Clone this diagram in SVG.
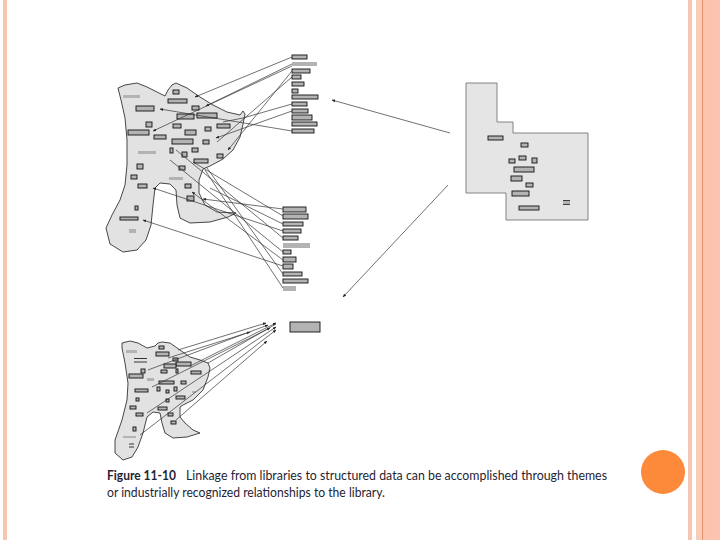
<svg xmlns="http://www.w3.org/2000/svg" width="720" height="540" viewBox="0 0 720 540">
<style>
.blob{fill:#e2e2e2;stroke:#333;stroke-width:0.9;stroke-linejoin:round}
.b{fill:#b3b3b3;stroke:#111;stroke-width:0.9}
.g{fill:#b3b3b3;stroke:none}
.ln{fill:none;stroke:#333;stroke-width:0.7}
.cap{font-family:Lato,"Liberation Sans",sans-serif;font-size:13px;fill:#1f2433}
</style>
<defs>
<marker id="ah" viewBox="0 0 10 10" refX="9" refY="5" markerWidth="5" markerHeight="5" orient="auto">
<path d="M0,1 L10,5 L0,9 z" fill="#222"/>
</marker>
</defs>
<rect width="720" height="540" fill="#ffffff"/>
<g id="frame">
<rect x="3" y="0" width="4" height="540" fill="#f7c6b3"/>
<rect x="688" y="0" width="4" height="540" fill="#f7c6b3"/>
<rect x="696" y="0" width="6" height="540" fill="#f9cdbb"/>
<rect x="702" y="0" width="1.2" height="540" fill="#e6916a"/>
<rect x="703" y="0" width="5" height="540" fill="#fbc5ae"/>
<rect x="708" y="0" width="12" height="540" fill="#fcc4b0"/>
<circle cx="663" cy="472" r="22" fill="#fd8a3b"/>
</g>
<g id="top-library">
<path class="blob" d="M118,88 L125,85 L137,83 L147,87 L157,92 L165,96 L168,90 L172,85 L176,83 L187,88 L200,97 L213,105 L227,112 L240,115 L243,111 L245,114 L243,124 L240,137 L233,150 L223,159 L210,166 L203,169 L199,180 L199,193 L205,205 L217,212 L236,213 L228,217 L210,222 L190,223 L180,218 L177,205 L176,190 L170,184 L160,183 L155,188 L153,205 L151,225 L146,240 L137,250 L123,252 L110,244 L106,228 L112,215 L120,200 L125,185 L127,165 L127,140 L125,118 L121,100 Z"/>
<rect class="g" x="123" y="95" width="17" height="3"/>
<rect class="b" x="173" y="90" width="6" height="4"/>
<rect class="b" x="168" y="99" width="19" height="4"/>
<rect class="b" x="136" y="106" width="18" height="5"/>
<rect class="b" x="192" y="106" width="7" height="4"/>
<rect class="b" x="197" y="113" width="20" height="5"/>
<rect class="b" x="177" y="114" width="17" height="5"/>
<rect class="b" x="146" y="122" width="6" height="5"/>
<rect class="b" x="173" y="124" width="8" height="4"/>
<rect class="b" x="217" y="124" width="13" height="4"/>
<rect class="b" x="205" y="127" width="6" height="4"/>
<rect class="b" x="128" y="130" width="21" height="5"/>
<rect class="b" x="185" y="130" width="11" height="5"/>
<rect class="b" x="154" y="135" width="12" height="4"/>
<rect class="b" x="172" y="139" width="21" height="5"/>
<rect class="b" x="203" y="140" width="6" height="4"/>
<rect class="b" x="170" y="148" width="3" height="5"/>
<rect class="b" x="192" y="148" width="6" height="4"/>
<rect class="g" x="138" y="151" width="18" height="3"/>
<rect class="b" x="182" y="152" width="5" height="5"/>
<rect class="b" x="217" y="154" width="6" height="4"/>
<rect class="b" x="194" y="159" width="14" height="4"/>
<rect class="b" x="137" y="164" width="6" height="5"/>
<rect class="b" x="179" y="166" width="6" height="4"/>
<rect class="b" x="131" y="175" width="6" height="4"/>
<rect class="g" x="169" y="177" width="14" height="3"/>
<rect class="b" x="138" y="184" width="9" height="4"/>
<rect class="b" x="185" y="184" width="6" height="4"/>
<rect class="b" x="187" y="196" width="7" height="5"/>
<rect class="b" x="135" y="206" width="3" height="4"/>
<rect class="b" x="120" y="217" width="18" height="3"/>
<rect class="g" x="129" y="229" width="7" height="4"/>
</g>
<g id="top-list">
<rect class="b" x="292" y="55" width="15" height="4"/>
<rect class="g" x="292" y="62" width="25" height="4"/>
<rect class="b" x="292" y="69" width="18" height="4"/>
<rect class="b" x="292" y="75" width="9" height="4"/>
<rect class="b" x="292" y="82" width="12" height="4"/>
<rect class="b" x="292" y="89" width="6" height="4"/>
<rect class="b" x="292" y="95" width="26" height="4"/>
<rect class="b" x="292" y="102" width="15" height="4"/>
<rect class="b" x="292" y="109" width="16" height="4"/>
<rect class="b" x="292" y="115" width="20" height="5"/>
<rect class="b" x="292" y="122" width="25" height="4"/>
<rect class="b" x="292" y="129" width="22" height="4"/>
</g>
<g id="mid-list">
<rect class="b" x="283" y="207" width="23" height="5"/>
<rect class="b" x="283" y="214" width="25" height="5"/>
<rect class="b" x="283" y="222" width="20" height="4"/>
<rect class="b" x="283" y="229" width="18" height="4"/>
<rect class="b" x="283" y="236" width="15" height="4"/>
<rect class="g" x="283" y="243" width="27" height="5"/>
<rect class="b" x="283" y="250" width="8" height="4"/>
<rect class="b" x="283" y="257" width="13" height="5"/>
<rect class="b" x="283" y="264" width="10" height="5"/>
<rect class="b" x="283" y="272" width="19" height="4"/>
<rect class="b" x="283" y="279" width="25" height="4"/>
<rect class="g" x="283" y="286" width="13" height="5"/>
</g>
<g id="structured-data">
<path d="M466,83 L497,83 L497,122 L513,122 L513,133 L588,133 L588,220 L506,220 L506,193 L466,193 Z" fill="#e5e5e5" stroke="#777" stroke-width="0.9"/>
<rect class="b" x="488" y="136" width="15" height="4"/>
<rect class="b" x="521" y="143" width="7" height="4"/>
<rect class="b" x="519" y="156" width="7" height="4"/>
<rect class="b" x="509" y="159" width="6" height="4"/>
<rect class="b" x="532" y="158" width="5" height="5"/>
<rect class="b" x="514" y="167" width="20" height="5"/>
<rect class="b" x="511" y="176" width="11" height="5"/>
<rect class="b" x="526" y="183" width="7" height="4"/>
<rect class="b" x="512" y="191" width="17" height="5"/>
<rect class="b" x="519" y="206" width="20" height="4"/>
<rect class="g" x="563" y="200" width="7" height="5"/>
<line x1="563" y1="200.5" x2="570" y2="200.5" stroke="#222" stroke-width="0.8"/>
<line x1="563" y1="204.5" x2="570" y2="204.5" stroke="#222" stroke-width="0.8"/>
</g>
<g id="bottom-library">
<path class="blob" d="M122,343 L130,341 L138,343 L147,348 L155,346 L158,343 L162,342 L170,343 L180,350 L190,357 L200,360 L208,363 L210,368 L208,377 L203,390 L193,400 L183,405 L180,407 L180,417 L185,423 L193,430 L200,433 L187,437 L173,438 L165,433 L162,423 L160,413 L153,412 L147,417 L143,433 L138,447 L132,457 L123,460 L115,453 L115,440 L122,420 L127,400 L128,383 L125,363 L122,348 Z"/>
<rect class="b" x="159" y="346" width="5" height="3"/>
<rect class="g" x="126" y="350" width="11" height="3"/>
<rect class="b" x="156" y="352" width="13" height="4"/>
<line x1="134" y1="358.5" x2="147" y2="358.5" stroke="#222" stroke-width="0.9"/>
<line x1="134" y1="362" x2="147" y2="362" stroke="#222" stroke-width="0.9"/>
<rect class="b" x="173" y="358" width="5" height="3"/>
<rect class="b" x="176" y="362" width="15" height="4"/>
<rect class="b" x="164" y="364" width="12" height="4"/>
<rect class="b" x="141" y="369" width="4" height="4"/>
<rect class="b" x="161" y="370" width="6" height="3"/>
<rect class="b" x="176" y="369" width="2" height="4"/>
<rect class="b" x="191" y="371" width="10" height="3"/>
<rect class="b" x="129" y="374" width="14" height="4"/>
<rect class="g" x="147" y="378" width="7" height="3"/>
<rect class="b" x="159" y="381" width="15" height="3"/>
<rect class="b" x="181" y="381" width="5" height="3"/>
<rect class="b" x="135" y="389" width="13" height="3"/>
<rect class="b" x="157" y="387" width="3" height="4"/>
<rect class="b" x="166" y="390" width="3" height="3"/>
<rect class="b" x="174" y="387" width="3" height="4"/>
<rect class="b" x="176" y="396" width="9" height="3"/>
<rect class="g" x="192" y="391" width="4" height="2"/>
<rect class="b" x="136" y="398" width="3" height="3"/>
<rect class="b" x="166" y="399" width="3" height="3"/>
<rect class="b" x="130" y="406" width="6" height="3"/>
<rect class="b" x="158" y="407" width="9" height="3"/>
<rect class="b" x="136" y="413" width="7" height="3"/>
<rect class="b" x="168" y="413" width="5" height="3"/>
<rect class="b" x="171" y="421" width="5" height="3"/>
<rect class="b" x="133" y="427" width="3" height="4"/>
<rect class="g" x="123" y="436" width="13" height="2"/>
<line x1="129" y1="444" x2="134" y2="444" stroke="#222" stroke-width="0.9"/>
<line x1="129" y1="447" x2="134" y2="447" stroke="#222" stroke-width="0.9"/>
</g>
<g id="theme-box">
<rect class="b" x="290" y="322" width="30" height="10"/>
</g>
<g id="connectors">
<!-- structured data to lists -->
<line class="ln" x1="450" y1="133" x2="332" y2="100" marker-end="url(#ah)"/>
<line class="ln" x1="448" y1="185" x2="343" y2="297" marker-end="url(#ah)"/>
<!-- top list to top library -->
<path class="ln" d="M292,57 L195,97" marker-end="url(#ah)"/>
<path class="ln" d="M292,64 L206,106" marker-end="url(#ah)"/>
<path class="ln" d="M292,66 L153,131" marker-end="url(#ah)"/>
<path class="ln" d="M292,71 L228,150" marker-end="url(#ah)"/>
<path class="ln" d="M292,77 L217,142"/>
<path class="ln" d="M292,104 L243,118 L223,122"/>
<path class="ln" d="M292,111 L216,138" marker-end="url(#ah)"/>
<path class="ln" d="M292,131 L160,109" marker-end="url(#ah)"/>
<!-- mid list to top library -->
<path class="ln" d="M283,209 L203,199" marker-end="url(#ah)"/>
<path class="ln" d="M283,216 L193,162"/>
<path class="ln" d="M283,224 L210,188"/>
<path class="ln" d="M283,231 L153,188" marker-end="url(#ah)"/>
<path class="ln" d="M283,238 L176,150"/>
<path class="ln" d="M283,252 L170,160"/>
<path class="ln" d="M283,260 L192,192" marker-end="url(#ah)"/>
<path class="ln" d="M283,266 L143,220" marker-end="url(#ah)"/>
<path class="ln" d="M283,274 L207,168"/>
<path class="ln" d="M283,288 L205,170"/>
<!-- bottom library to theme -->
<path class="ln" d="M178,350 L266,323" marker-end="url(#ah)"/>
<path class="ln" d="M168,358 L250,332" marker-end="url(#ah)"/>
<path class="ln" d="M148,370 L268,325" marker-end="url(#ah)"/>
<path class="ln" d="M190,366 L276,323" marker-end="url(#ah)"/>
<path class="ln" d="M152,387 L270,328" marker-end="url(#ah)"/>
<path class="ln" d="M208,363 L276,324"/>
<path class="ln" d="M147,413 L276,327" marker-end="url(#ah)"/>
<path class="ln" d="M176,420 L267,341" marker-end="url(#ah)"/>
<path class="ln" d="M140,435 L276,330" marker-end="url(#ah)"/>
</g>
<g id="caption">
<text class="cap" x="107" y="480" font-weight="bold" textLength="69" lengthAdjust="spacingAndGlyphs">Figure 11-10</text>
<text class="cap" x="186" y="480" textLength="421" lengthAdjust="spacingAndGlyphs">Linkage from libraries to structured data can be accomplished through themes</text>
<text class="cap" x="107" y="497" textLength="278" lengthAdjust="spacingAndGlyphs">or industrially recognized relationships to the library.</text>
</g>
</svg>
